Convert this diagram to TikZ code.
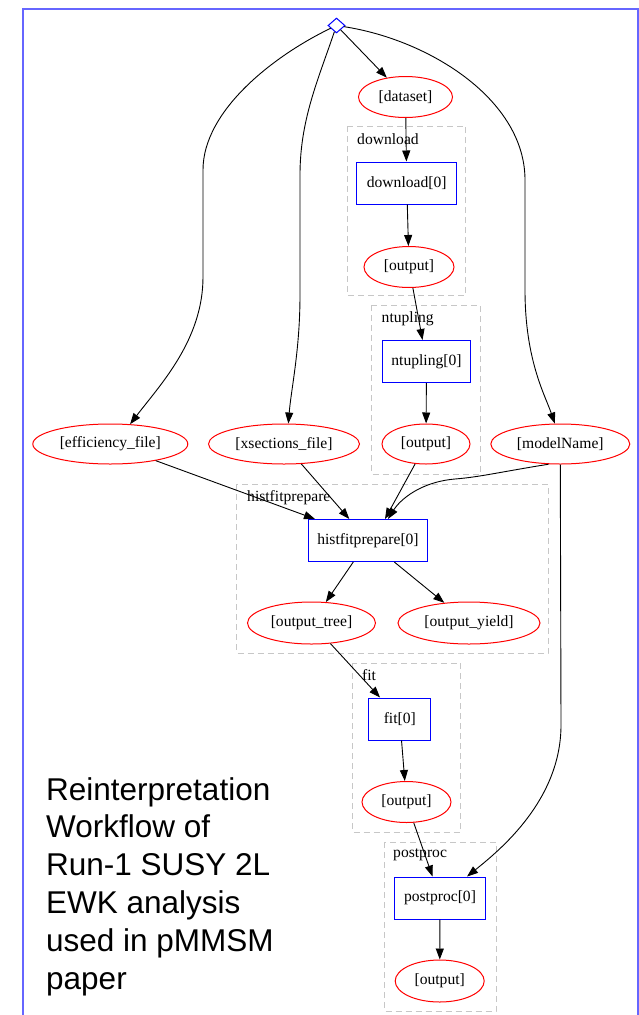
\documentclass[tikz,border=0pt]{standalone}
\usepackage{fontspec}
\setmainfont{Liberation Serif}
\newfontfamily\bigsans{Liberation Sans}
\usetikzlibrary{shapes.geometric,arrows.meta,calc}
\begin{document}
\begin{tikzpicture}[x=1pt,y=-1pt,
  every node/.style={font=\fontsize{15.6}{17}\selectfont},
  ell/.style={ellipse,draw=red,line width=1pt,minimum height=41pt,inner sep=0pt},
  box/.style={rectangle,draw=blue,line width=1pt,minimum height=42pt,inner sep=0pt},
  clus/.style={draw=black!22,dash pattern=on 6pt off 4pt,line width=1pt},
  clab/.style={anchor=west,inner sep=0pt},
  arr/.style={-{Triangle[length=11pt,width=8pt]},line width=0.9pt},
  frame/.style={draw=blue!60,line width=1.2pt},
]
\useasboundingbox (0,0) rectangle (639,1015);
\draw[frame] (23,1030) -- (23,9) -- (638,9) -- (638,1030);

% clusters
\draw[clus] (347.5,126) rectangle (465.5,295.5);
\node[clab] (ldl) at (357,139) {download};
\draw[clus] (371.5,305) rectangle (480,474);
\node[clab] (lnt) at (381.5,319) {ntupling};
\draw[clus] (236.5,484) rectangle (548,653);
\node[clab] (lhf) at (247,498) {histfitprepare};
\draw[clus] (352.5,663) rectangle (460.5,832);
\node[clab] (lfit) at (362,675) {fit};
\draw[clus] (384.5,842) rectangle (496,1011);
\node[clab] (lpp) at (393,855) {postproc};

% nodes
\node[draw=blue,diamond,minimum width=17pt,minimum height=15pt,inner sep=0pt,line width=1pt] (dia) at (336.5,25.5) {};
\node[ell,minimum width=94pt] (ds) at (405.5,97) {[dataset]};
\node[box,minimum width=100pt] (dl) at (406.7,183) {download[0]};
\node[ell,minimum width=90pt] (o1) at (409,267) {[output]};
\node[box,minimum width=88pt] (nt) at (426.5,361.5) {ntupling[0]};
\node[ell,minimum width=88pt,minimum height=40pt] (o2) at (426,444) {[output]};
\node[ell,minimum width=155pt,minimum height=40pt] (eff) at (110.3,444) {[efficiency\_file]};
\node[ell,minimum width=151pt,minimum height=40pt] (xs) at (284,444) {[xsections\_file]};
\node[ell,minimum width=139pt,minimum height=40pt] (mn) at (560.3,444) {[modelName]};
\node[box,minimum width=119pt] (hf) at (368,540.5) {histfitprepare[0]};
\node[ell,minimum width=128pt,minimum height=42pt] (ot) at (311.5,623) {[output\_tree]};
\node[ell,minimum width=142pt,minimum height=42pt] (oy) at (469,623) {[output\_yield]};
\node[box,minimum width=62pt] (fit) at (399.8,719) {fit[0]};
\node[ell,minimum width=89pt] (o3) at (406.5,802) {[output]};
\node[box,minimum width=91pt] (pp) at (440,898) {postproc[0]};
\node[ell,minimum width=89pt,minimum height=42pt] (o4) at (439.7,981) {[output]};

\node[anchor=base west,align=left,inner sep=0pt,font=\bigsans\fontsize{31.5}{37.8}\selectfont] (txt) at (46,989)
  {Reinterpretation\\Workflow of\\Run-1 SUSY 2L\\EWK analysis\\used in pMMSM\\paper};

% edges
\draw[arr] (dia) -- (ds);
\draw[arr] (dia) .. controls (275,55) and (203,110) .. (203,170) -- (203,277) .. controls (203,340) and (160,385) .. (eff.45);
\draw[arr] (dia) .. controls (318,80) and (300,120) .. (300,175) -- (300,295) .. controls (300,350) and (291,390) .. (xs.78);
\draw[arr] (dia) .. controls (430,40) and (525,100) .. (525,180) -- (525,290) .. controls (525,360) and (545,395) .. (mn.105);
\draw[arr] (ds) -- (dl);
\draw[arr] (dl) -- (o1);
\draw[arr] (o1) -- (nt);
\draw[arr] (nt) -- (o2);
\draw[arr] (eff) -- ($(hf.north west)+(7,0)$);
\draw[arr] (xs) -- (hf);
\draw[arr] (o2) -- ($(hf.north)+(17,0)$);
\draw[arr] (mn.240) .. controls (500,472) and (480,477) .. (455,479) .. controls (420,482) and (400,500) .. ($(hf.north)+(20,0)$);
\draw[arr] (hf) -- (ot);
\draw[arr] (hf) -- (oy);
\draw[arr] (ot) -- (fit);
\draw[arr] (fit) -- (o3);
\draw[arr] (o3) -- (pp);
\draw[arr] (mn.south) -- (561,725) .. controls (561,800) and (500,850) .. ($(pp.north east)+(-19,0)$);
\draw[arr] (pp) -- (o4);
\end{tikzpicture}
\end{document}
